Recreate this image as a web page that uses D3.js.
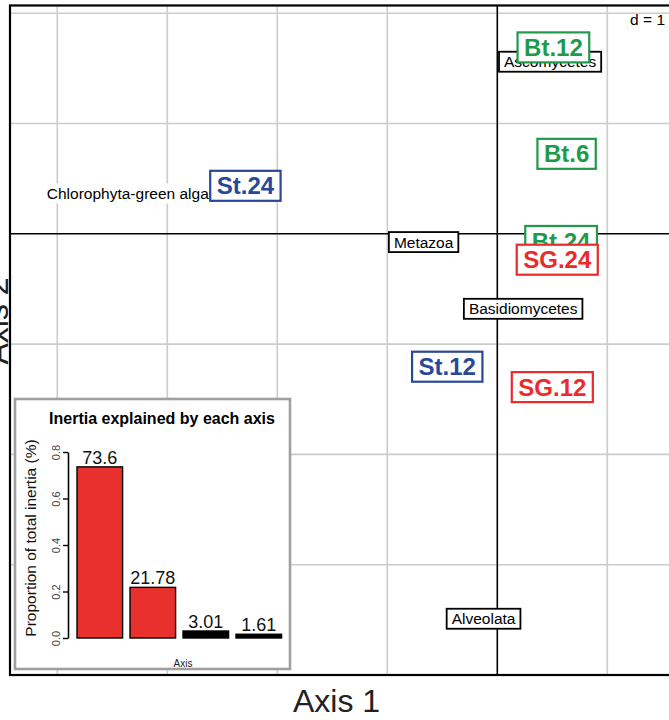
<!DOCTYPE html>
<html><head><meta charset="utf-8">
<script src="https://cdn.jsdelivr.net/npm/d3@7"></script>
<style>
html,body{margin:0;padding:0;background:#fff;}
svg{display:block;font-family:"Liberation Sans",Arial,sans-serif;}
</style></head>
<body>
<svg id="chart" width="669" height="720"></svg>
<script>
// ---- data ----
const groupNames = ["Bt.12","Bt.6","Bt.24","SG.24","SG.12","St.24","St.12"];
const groupSite  = ["Bt","Bt","Bt","SG","SG","St","St"];
const groupX = [0.51, 0.63, 0.58, 0.545, 0.50, -2.29, -0.455];
const groupY = [1.69, 0.725, -0.065, -0.235, -1.39, 0.435, -1.205];

const taxaNames = ["Ascomycetes","Chlorophyta-green algae","Metazoa","Basidiomycetes","Alveolata"];
const taxaX = [0.48, -3.32, -0.67, 0.235, -0.125];
const taxaY = [1.56, 0.365, -0.075, -0.68, -3.49];

const inertiaAxes = ["1","2","3","4"];
const inertiaValues = [73.6, 21.78, 3.01, 1.61];
const inertiaTicks = [0, 0.2, 0.4, 0.6, 0.8];
const keptAxes = 2;

const gridX = [-4,-3,-2,-1,0,1];
const gridY = [-4,-3,-2,-1,0,1,2];

// ---- styling ----
const siteColor = {Bt:"#1f9a4b", SG:"#ec2a2c", St:"#29489a"};
const svg = d3.select("#chart");

const x = d3.scaleLinear().domain([-4.43, 1.75]).range([10, 10 + 110*6.18]);
const y = d3.scaleLinear().domain([-4, 2.07]).range([675, 675 - 110.3*6.07]);

// grid
svg.append("g").selectAll("line").data(gridX.filter(d=>d!==0)).join("line")
  .attr("x1",d=>x(d)).attr("x2",d=>x(d)).attr("y1",y(2.07)).attr("y2",y(-4))
  .attr("stroke","#cccccc").attr("stroke-width",1.6);
svg.append("g").selectAll("line").data(gridY.filter(d=>d!==0)).join("line")
  .attr("y1",d=>y(d)).attr("y2",d=>y(d)).attr("x1",x(-4.43)).attr("x2",x(1.75))
  .attr("stroke","#cccccc").attr("stroke-width",1.6);
// zero axes
svg.append("line").attr("x1",x(0)).attr("x2",x(0)).attr("y1",y(2.07)).attr("y2",y(-4))
  .attr("stroke","#000").attr("stroke-width",1.6);
svg.append("line").attr("y1",y(0)).attr("y2",y(0)).attr("x1",x(-4.43)).attr("x2",x(1.75))
  .attr("stroke","#000").attr("stroke-width",1.6);
// panel border
svg.append("rect").attr("x",x(-4.43)).attr("y",y(2.07))
  .attr("width",x(1.75)-x(-4.43)).attr("height",y(-4)-y(2.07))
  .attr("fill","none").attr("stroke","#000").attr("stroke-width",2.2);

// d = 1
svg.append("text").attr("x",665).attr("y",25).attr("text-anchor","end")
  .attr("font-size",15.5).attr("fill","#000").text("d = 1");

function boxLabel(g, txt, cx, cy, opt){
  const grp = g.append("g").attr("transform",`translate(${cx},${cy})`);
  const r = grp.append("rect");
  const t = grp.append("text").attr("text-anchor","middle").attr("dy","0.36em")
    .attr("font-size",opt.size).attr("font-weight",opt.weight).attr("fill",opt.color).text(txt);
  const w = t.node().getComputedTextLength() + 2*opt.padX;
  r.attr("x",-w/2).attr("y",-opt.h/2).attr("width",w).attr("height",opt.h)
   .attr("fill","#fff").attr("stroke",opt.border ? opt.color : "none").attr("stroke-width",opt.sw);
}

const labels = svg.append("g");
taxaNames.forEach((n,i)=>{
  boxLabel(labels, n, x(taxaX[i]), y(taxaY[i]),
    {size:15.5, weight:"normal", color:"#000", padX:5, h:20, sw:1.8,
     border: n !== "Chlorophyta-green algae"});
});
groupNames.forEach((n,i)=>{
  boxLabel(labels, n, x(groupX[i]), y(groupY[i]),
    {size:24, weight:"bold", color:siteColor[groupSite[i]], padX:6.5, h:30, sw:2.2, border:true});
});

// axis titles
svg.append("text").attr("x",336.5).attr("y",712).attr("text-anchor","middle")
  .attr("font-size",32).attr("fill","#222").text("Axis 1");
svg.append("text").attr("transform","translate(7.5,321) rotate(-90)").attr("text-anchor","middle")
  .attr("font-size",32).attr("fill","#222").text("Axis 2");

// ---- inset ----
const inset = svg.append("g");
inset.append("rect").attr("x",15).attr("y",399).attr("width",275).attr("height",270)
  .attr("fill","#fff").attr("stroke","#a0a0a0").attr("stroke-width",2.6);
inset.append("text").attr("x",162).attr("y",424).attr("text-anchor","middle")
  .attr("font-size",16).attr("font-weight","bold").attr("fill","#000")
  .text("Inertia explained by each axis");

const bx = d3.scaleBand().domain(inertiaAxes).range([73.3, 285.3]).paddingInner(0.14).paddingOuter(0.07);
const by = d3.scaleLinear().domain([0,0.8]).range([638, 452]);

inset.append("g").selectAll("rect").data(inertiaValues).join("rect")
  .attr("x",(d,i)=>bx(inertiaAxes[i])).attr("width",bx.bandwidth())
  .attr("y",d=>by(d/100)).attr("height",d=>by(0)-by(d/100))
  .attr("fill",(d,i)=>i<keptAxes ? "#e8302d" : "#000")
  .attr("stroke","#000").attr("stroke-width",1.4);
inset.append("g").selectAll("text").data(inertiaValues).join("text")
  .attr("x",(d,i)=>bx(inertiaAxes[i])+bx.bandwidth()/2).attr("y",d=>by(d/100)-3)
  .attr("text-anchor","middle").attr("font-size",18).attr("fill","#111")
  .text(d=>d);

const yAx = inset.append("g").attr("transform","translate(68,0)")
  .call(d3.axisLeft(by).tickValues(inertiaTicks).tickSize(5).tickSizeOuter(0).tickFormat(d3.format(".1f")));
yAx.select(".domain").attr("stroke","#000").attr("stroke-width",1.6);
yAx.selectAll(".tick line").attr("stroke","#000").attr("stroke-width",1.4);
yAx.selectAll(".tick text").attr("transform","rotate(-90)").attr("x",0).attr("y",-8).attr("dy",0)
  .attr("text-anchor","middle").attr("font-size",11).attr("fill","#444")
  .attr("font-family","Liberation Sans, Arial, sans-serif");

inset.append("text").attr("transform","translate(36,538) rotate(-90)").attr("text-anchor","middle")
  .attr("font-size",15.5).attr("fill","#111").text("Proportion of total inertia (%)");
inset.append("text").attr("x",183).attr("y",667).attr("text-anchor","middle")
  .attr("font-size",10).attr("fill","#222").text("Axis");
</script>
</body></html>
